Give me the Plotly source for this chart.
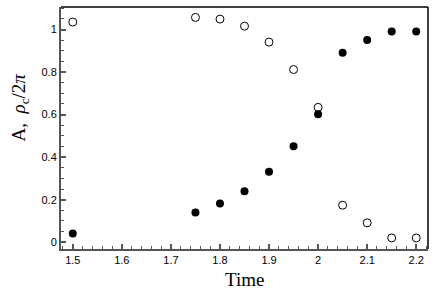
import plotly.graph_objects as go

time = [1.5, 1.75, 1.8, 1.85, 1.9, 1.95, 2.0, 2.05, 2.1, 2.15, 2.2]
amp_open = [1.035, 1.057, 1.049, 1.016, 0.941, 0.812, 0.634, 0.174, 0.091, 0.02, 0.02]
rho_filled = [0.041, 0.14, 0.182, 0.24, 0.331, 0.451, 0.602, 0.891, 0.951, 0.991, 0.991]

x_ticks = [1.5, 1.6, 1.7, 1.8, 1.9, 2.0, 2.1, 2.2]
x_labels = ["1.5", "1.6", "1.7", "1.8", "1.9", "2", "2.1", "2.2"]
y_ticks = [0, 0.2, 0.4, 0.6, 0.8, 1.0]
y_labels = ["0", "0.2", "0.4", "0.6", "0.8", "1"]
x_title = "Time"
y_title = "A,  <i>ρ</i><sub>c</sub>/2<i>π</i>"

fig = go.Figure()
fig.add_trace(go.Scatter(x=time, y=amp_open, mode="markers",
                         marker=dict(symbol="circle-open", size=8, color="black",
                                     line=dict(width=1, color="black"))))
fig.add_trace(go.Scatter(x=time, y=rho_filled, mode="markers",
                         marker=dict(symbol="circle", size=8, color="black")))

axis_common = dict(showgrid=False, zeroline=False, showline=True, automargin=False,
                   linecolor="#555", linewidth=2, ticks="inside", ticklen=5,
                   tickwidth=1.5, tickcolor="#555",
                   tickfont=dict(family="Liberation Sans, Arial", size=11, color="black"))

fig.update_xaxes(range=[1.476, 2.224], tickvals=x_ticks, ticktext=x_labels,
                 minor=dict(ticks="inside", ticklen=3, dtick=0.02, tick0=1.5,
                            tickcolor="#555", tickwidth=1),
                 **axis_common)
fig.update_yaxes(range=[-0.032, 1.106], tickvals=y_ticks, ticktext=y_labels,
                 minor=dict(ticks="inside", ticklen=3, dtick=0.05, tick0=0,
                            tickcolor="#555", tickwidth=1),
                 **axis_common)

fig.add_shape(type="line", xref="paper", yref="paper", x0=0, x1=1, y0=1, y1=1,
              line=dict(color="black", width=1.5))
fig.add_shape(type="line", xref="paper", yref="paper", x0=1, x1=1, y0=0, y1=1,
              line=dict(color="black", width=1.5))

serif = dict(family="Liberation Serif, Times New Roman", size=19, color="black")
fig.add_annotation(text=x_title, xref="paper", yref="paper", x=0.5, y=0,
                   yshift=-30, xanchor="center", yanchor="middle",
                   showarrow=False, font=serif)
fig.add_annotation(text=y_title, xref="paper", yref="paper", x=0, y=0.585,
                   xshift=-41, xanchor="center", yanchor="middle", textangle=-90,
                   showarrow=False, font=serif)

fig.update_layout(width=436, height=299, showlegend=False,
                  paper_bgcolor="white", plot_bgcolor="white",
                  margin=dict(l=61, r=8, t=7, b=50))

fig.write_html("out.html", config={"displayModeBar": False},
               post_script="document.body.style.margin='0';document.body.style.padding='0';")
